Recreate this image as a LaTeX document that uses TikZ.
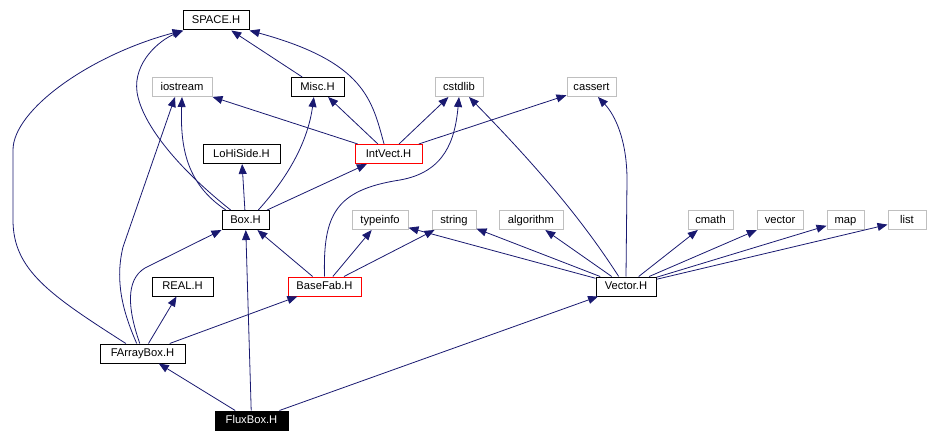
\documentclass[tikz,border=0pt]{standalone}
\usepackage{fontspec}
\setmainfont{Liberation Sans}
\usetikzlibrary{arrows.meta}
\definecolor{dep-edge}{HTML}{191970}
\definecolor{sys-border}{HTML}{BFBFBF}
\definecolor{cur-border}{HTML}{FF0000}
\tikzset{
  hdr/.style={
    draw=black, line width=0.75pt, minimum height=14.25pt, inner sep=0pt,
    text height=6.2pt, text depth=1.6pt, font=\fontsize{8.4}{9}\selectfont
  },
  syshdr/.style={hdr, draw=sys-border},
  redhdr/.style={hdr, draw=cur-border},
  roothdr/.style={hdr, fill=black, text=white},
  dep/.style={-{Triangle[length=7.5pt, width=6pt]}, draw=dep-edge, line width=0.6pt}
}

\begin{document}
\begin{tikzpicture}[x=0.75pt, y=-0.75pt]
  \useasboundingbox (0,0) rectangle (928,442);

  % ---- Top row -------------------------------------------------------------
  \node[hdr, minimum width=49.5pt]     (space)    at (216, 20.5) {SPACE.H};

  % ---- Second row ----------------------------------------------------------
  \node[syshdr, minimum width=45pt]    (iostream) at (182, 87)   {iostream};
  \node[hdr, minimum width=39.75pt]    (misc)     at (317.5, 87) {Misc.H};
  \node[syshdr, minimum width=36pt]    (cstdlib)  at (459, 87)   {cstdlib};
  \node[syshdr, minimum width=36.75pt] (cassert)  at (591.5, 87) {cassert};

  % ---- Third row -----------------------------------------------------------
  \node[hdr, minimum width=57.75pt]    (lohiside) at (241.5, 154) {LoHiSide.H};
  \node[redhdr, minimum width=50.25pt] (intvect)  at (388.5, 154) {IntVect.H};

  % ---- Fourth row ----------------------------------------------------------
  \node[hdr, minimum width=35.25pt]    (box)       at (245.5, 220) {Box.H};
  \node[syshdr, minimum width=42pt]    (typeinfo)  at (380, 220)   {typeinfo};
  \node[syshdr, minimum width=33pt]    (string)    at (454, 220)   {string};
  \node[syshdr, minimum width=48pt]    (algorithm) at (531, 220)   {algorithm};
  \node[syshdr, minimum width=33.75pt] (cmath)     at (710.5, 220) {cmath};
  \node[syshdr, minimum width=34.5pt]  (vector)    at (780, 220)   {vector};
  \node[syshdr, minimum width=27.75pt] (map)       at (845.5, 220) {map};
  \node[syshdr, minimum width=28.5pt]  (list)      at (907, 220)   {list};

  % ---- Fifth row -----------------------------------------------------------
  \node[hdr, minimum width=45.75pt]    (real)    at (182.5, 286.5) {REAL.H};
  \node[redhdr, minimum width=54.75pt] (basefab) at (324.5, 286.5) {BaseFab.H};
  \node[hdr, minimum width=45pt]       (vectorh) at (626, 286.5)   {Vector.H};

  % ---- Bottom rows ---------------------------------------------------------
  \node[hdr, minimum width=63.75pt]     (farraybox) at (142.5, 353.5) {FArrayBox.H};
  \node[roothdr, minimum width=54.75pt] (fluxbox)   at (251.5, 420.5) {FluxBox.H};

  % ---- FluxBox.H includes --------------------------------------------------
  \draw[dep] (fluxbox) -- (farraybox);
  \draw[dep] (fluxbox) -- (box);
  \draw[dep] (fluxbox) -- (vectorh);

  % ---- FArrayBox.H includes ------------------------------------------------
  \draw[dep] (farraybox.149) .. controls (50,295) and (13,270) .. (13,220)
        -- (13,150) .. controls (13,110) and (90,55) .. (space.south west);
  \draw[dep] (farraybox.120) .. controls (122,310) and (115,280) .. (123,247)
        -- (iostream.235);
  \draw[dep] (farraybox.105) .. controls (128,310) and (125,280) .. (145,268)
        -- (box.south west);
  \draw[dep] (farraybox) -- (real);
  \draw[dep] (farraybox) -- (basefab);

  % ---- BaseFab.H includes --------------------------------------------------
  \draw[dep] (basefab) -- (box);
  \draw[dep] (basefab.north) .. controls (323,215) and (335,190) .. (400,180)
        .. controls (445,172) and (455,140) .. (cstdlib.south);
  \draw[dep] (basefab) -- (typeinfo);
  \draw[dep] (basefab) -- (string);

  % ---- Vector.H includes ---------------------------------------------------
  \draw[dep] (vectorh) -- (typeinfo);
  \draw[dep] (vectorh) -- (string);
  \draw[dep] (vectorh) -- (algorithm);
  \draw[dep] (vectorh.126) .. controls (595,240) and (560,190) .. (cstdlib.315);
  \draw[dep] (vectorh.north) -- (627,180)
        .. controls (627,140) and (615,115) .. (cassert.303);
  \draw[dep] (vectorh) -- (cmath);
  \draw[dep] (vectorh) -- (vector);
  \draw[dep] (vectorh) -- (map);
  \draw[dep] (vectorh) -- (list);

  % ---- Box.H includes ------------------------------------------------------
  \draw[dep] (box.146) .. controls (180,170) and (142,125) .. (137,92)
        .. controls (133,62) and (160,40) .. (space.197);
  \draw[dep] (box.153) .. controls (188,185) and (180,150) .. (iostream.south);
  \draw[dep] (box) -- (lohiside);
  \draw[dep] (box.38) .. controls (290,175) and (308,140) .. (misc.250);
  \draw[dep] (box) -- (intvect);

  % ---- IntVect.H includes --------------------------------------------------
  \draw[dep] (intvect.114) .. controls (372,100) and (365,62) .. (space.south east);
  \draw[dep] (intvect) -- (iostream);
  \draw[dep] (intvect) -- (misc);
  \draw[dep] (intvect) -- (cstdlib);
  \draw[dep] (intvect) -- (cassert);

  % ---- Misc.H includes -----------------------------------------------------
  \draw[dep] (misc) -- (space);

\end{tikzpicture}
\end{document}
